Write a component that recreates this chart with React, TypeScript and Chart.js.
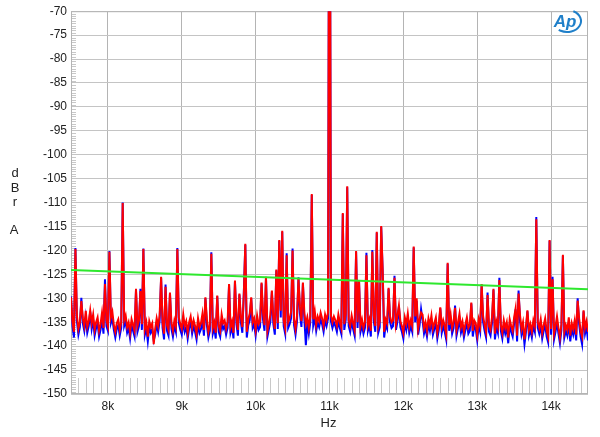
import React, { useEffect, useRef } from "react";
import { Chart, registerables } from "chart.js";

Chart.register(...registerables);

const X_MIN = 7500;
const X_MAX = 14500;
const BIN_HZ = 20;
const Y_MIN = -150;
const Y_MAX = -70;

const X_TICKS = [8000, 9000, 10000, 11000, 12000, 13000, 14000];
const Y_TICKS = [-150, -145, -140, -135, -130, -125, -120, -115, -110, -105, -100, -95, -90, -85, -80, -75, -70];

// Noise floor readings (red channel), one per 20 Hz bin from 7.5 kHz
const RED_NOISE = [
  -136.2, -134.8, -137.0, -135.4, -133.6, -136.4, -135.0, -137.2, -134.2, -135.8, -132.6, -136.0, -134.8, -137.4, -135.2, -133.4, -136.6, -135.0, -134.0, -136.8,
  -135.4, -133.0, -136.2, -137.6, -134.6, -135.8, -136.8, -134.0, -132.8, -135.6, -137.0, -135.2, -134.4, -136.6, -135.0, -137.8, -134.6, -133.6, -136.0, -135.0,
  -137.2, -134.4, -135.6, -136.8, -133.2, -135.8, -134.6, -137.0, -135.4, -133.8, -136.4, -135.0, -138.0, -134.8, -136.0, -135.2, -139.6, -136.4, -134.2, -135.8,
  -133.6, -136.2, -135.0, -137.4, -134.4, -135.6, -136.6, -132.4, -135.2, -136.8, -134.6, -135.8, -137.0, -134.0, -135.4, -136.4, -133.4, -135.8, -134.8, -137.2,
  -135.0, -133.8, -136.2, -134.6, -135.8, -137.4, -134.2, -136.0, -135.2, -133.2, -136.6, -135.4, -134.4, -137.0, -135.6, -134.0, -136.2, -135.0, -137.2, -134.6,
  -135.8, -136.8, -133.4, -135.2, -134.6, -136.4, -135.0, -132.8, -136.0, -134.8, -137.2, -135.6, -134.2, -136.6, -135.4, -133.8, -136.0, -134.6, -135.8, -137.0,
  -134.4, -133.2, -136.0, -135.0, -134.2, -136.6, -133.6, -135.4, -134.8, -136.2, -133.0, -135.6, -134.4, -136.8, -135.2, -133.4, -135.8, -134.2, -136.4, -133.8,
  -135.2, -134.0, -132.6, -135.6, -134.6, -136.2, -133.4, -135.0, -134.2, -132.8, -135.8, -134.4, -136.4, -133.6, -135.2, -131.8, -134.8, -136.0, -133.2, -135.4,
  -134.0, -136.2, -133.8, -135.0, -134.4, -132.6, -135.6, -133.8, -134.8, -133.0, -134.2, -135.8, -133.4, -134.6, -133.0, -132.2, -133.6, -135.0, -133.8, -134.6,
  -135.8, -133.4, -135.0, -136.2, -134.0, -135.4, -133.2, -136.0, -134.6, -135.8, -133.6, -135.2, -136.6, -134.2, -135.0, -133.0, -135.8, -134.4, -136.2, -135.0,
  -133.8, -135.6, -134.4, -136.8, -135.2, -133.6, -135.8, -134.2, -136.0, -134.8, -133.4, -135.6, -137.0, -134.4, -135.2, -136.4, -133.8, -135.0, -134.6, -136.6,
  -135.4, -133.6, -136.2, -134.8, -135.8, -137.2, -134.0, -135.4, -133.2, -136.0, -134.6, -135.8, -137.0, -133.8, -135.2, -136.4, -134.4, -135.6, -133.4, -136.2,
  -135.0, -136.8, -134.2, -135.6, -133.6, -136.4, -135.2, -134.0, -137.2, -135.4, -133.8, -136.0, -134.6, -135.8, -137.4, -134.2, -135.6, -133.4, -136.2, -135.0,
  -134.4, -136.6, -135.0, -133.2, -136.0, -134.8, -137.0, -135.4, -134.0, -136.2, -135.6, -133.6, -136.8, -134.6, -135.2, -137.6, -134.4, -135.8, -136.4, -133.8,
  -135.6, -137.0, -134.2, -135.8, -136.6, -134.0, -135.4, -137.4, -134.8, -136.0, -133.4, -135.6, -137.2, -134.6, -136.2, -135.0, -138.2, -134.4, -135.8, -136.8,
  -134.0, -135.6, -137.8, -135.2, -133.6, -136.4, -135.0, -138.6, -135.8, -134.2, -136.6, -135.4, -137.0, -134.6, -135.8, -138.4, -135.0, -136.2, -134.4, -137.2,
  -135.6, -134.2, -136.8, -138.0, -135.0, -136.4, -134.6, -137.4, -135.8, -133.8, -136.2, -138.2, -135.4, -134.8, -137.0, -135.6, -136.6, -134.0, -137.8, -135.2,
  -136.4, -134.6, -137.6, -135.8, -134.2, -136.8, -138.0, -135.0, -136.2, -134.8, -137.0,
];

// Noise floor readings (blue channel)
const BLUE_NOISE = [
  -137.0, -135.8, -138.2, -136.2, -134.8, -137.6, -136.0, -138.4, -135.2, -136.8, -134.0, -137.2, -135.8, -138.6, -136.4, -134.6, -137.8, -136.2, -135.2, -138.0,
  -136.6, -134.4, -137.4, -138.8, -135.8, -136.8, -138.0, -135.2, -134.2, -136.6, -138.2, -136.4, -135.6, -137.8, -136.2, -138.6, -135.8, -134.8, -137.2, -136.2,
  -138.4, -135.6, -136.8, -138.0, -134.6, -137.0, -135.8, -138.2, -136.6, -135.0, -137.6, -136.2, -139.0, -136.0, -137.2, -136.4, -138.8, -137.6, -135.4, -137.0,
  -134.8, -137.4, -136.2, -138.6, -135.6, -136.8, -137.8, -134.2, -136.4, -138.0, -135.8, -137.0, -138.4, -135.2, -136.6, -137.6, -134.8, -137.0, -136.0, -138.4,
  -136.2, -135.0, -137.4, -135.8, -137.0, -138.6, -135.4, -137.2, -136.4, -134.6, -137.8, -136.6, -135.6, -138.2, -136.8, -135.2, -137.4, -136.2, -138.4, -135.8,
  -137.0, -138.0, -134.8, -136.4, -135.8, -137.6, -136.2, -134.2, -137.2, -136.0, -138.4, -136.8, -135.4, -137.8, -136.6, -135.0, -137.2, -135.8, -137.0, -138.2,
  -135.6, -134.6, -137.2, -136.2, -135.4, -137.8, -134.8, -136.6, -136.0, -137.4, -134.4, -136.8, -135.6, -138.0, -136.4, -134.8, -137.0, -135.4, -137.6, -135.0,
  -136.4, -135.2, -134.0, -136.8, -135.8, -137.4, -134.6, -136.2, -135.4, -134.2, -137.0, -135.6, -137.6, -134.8, -136.4, -133.2, -136.0, -137.2, -134.4, -139.8,
  -135.2, -137.4, -135.0, -136.2, -135.6, -134.0, -136.8, -135.0, -136.0, -134.4, -135.4, -137.0, -134.6, -135.8, -134.2, -133.6, -134.8, -136.2, -135.0, -135.8,
  -137.0, -134.6, -136.2, -137.4, -135.2, -136.6, -134.4, -137.2, -135.8, -137.0, -134.8, -136.4, -137.8, -135.4, -136.2, -134.2, -137.0, -135.6, -137.4, -136.2,
  -135.0, -136.8, -135.6, -138.0, -136.4, -134.8, -137.0, -135.4, -137.2, -136.0, -134.6, -136.8, -138.2, -135.6, -136.4, -137.6, -135.0, -136.2, -135.8, -137.8,
  -136.6, -134.8, -137.4, -136.0, -137.0, -138.4, -135.2, -136.6, -134.4, -137.2, -135.8, -137.0, -138.2, -135.0, -136.4, -137.6, -135.6, -136.8, -134.6, -137.4,
  -136.2, -138.0, -135.4, -136.8, -134.8, -137.6, -136.4, -135.2, -138.4, -136.6, -135.0, -137.2, -135.8, -137.0, -138.6, -135.4, -136.8, -134.6, -137.4, -136.2,
  -135.6, -137.8, -136.2, -134.4, -137.2, -136.0, -138.2, -136.6, -135.2, -137.4, -136.8, -134.8, -138.0, -135.8, -136.4, -138.8, -135.6, -137.0, -137.6, -135.0,
  -136.8, -138.2, -135.4, -137.0, -137.8, -135.2, -136.6, -138.6, -136.0, -137.2, -134.6, -136.8, -138.4, -135.8, -137.4, -136.2, -139.4, -135.6, -137.0, -138.0,
  -135.2, -136.8, -139.0, -136.4, -134.8, -137.6, -136.2, -139.6, -137.0, -135.4, -137.8, -136.6, -138.2, -135.8, -137.0, -139.4, -136.2, -137.4, -135.6, -138.4,
  -136.8, -135.4, -138.0, -139.2, -136.2, -137.6, -135.8, -138.6, -137.0, -135.0, -137.4, -139.4, -136.6, -136.0, -138.2, -136.8, -137.8, -135.2, -139.0, -136.4,
  -137.6, -135.8, -138.8, -137.0, -135.4, -138.0, -139.6, -136.2, -137.4, -136.0, -138.8,
];

// Discrete spurious tones: frequency (Hz), red level, blue level (dBr)
const SPIKE_HZ = [
  7504, 7563, 7631, 7753, 7969, 8027, 8203, 8382, 8436, 8486, 8712, 8788, 8847, 8936,
  9310, 9401, 9482, 9631, 9716, 9770, 9838, 9861, 9949,
  10084, 10130, 10211, 10279, 10314, 10355, 10428, 10499, 10580, 10638, 10765,
  11000, 11184, 11233, 11368, 11404, 11503, 11576, 11644, 11697, 11729, 11797, 11877, 11945,
  12148, 12170, 12235, 12508, 12607, 12697, 12921,
  13062, 13147, 13219, 13296, 13521, 13566, 13678, 13791, 13980,
  14025, 14160, 14367, 14444,
];
const SPIKE_RED = [
  -129.8, -119.7, -130.6, -132.5, -127.0, -120.3, -110.1, -128.0, -128.5, -119.7, -125.5, -127.6, -128.8, -119.7,
  -129.8, -120.7, -129.4, -127.0, -126.3, -129.0, -129.2, -118.6, -129.8,
  -126.7, -125.5, -128.4, -124.0, -117.8, -115.9, -121.0, -120.0, -126.0, -126.7, -108.2,
  0, -112.2, -106.6, -120.1, -126.3, -121.0, -120.3, -116.1, -114.9, -124.2, -127.8, -125.7, -131.5,
  -119.2, -130.0, -133.0, -131.9, -122.6, -132.0, -130.9,
  -127.0, -129.3, -128.0, -126.2, -132.1, -129.0, -132.5, -113.5, -117.8,
  -126.0, -120.9, -130.5, -132.5,
];
const SPIKE_BLUE = [
  -129.6, -119.5, -129.9, -132.8, -126.0, -120.1, -110.0, -128.4, -128.0, -119.6, -125.7, -127.1, -129.0, -119.5,
  -130.0, -120.4, -129.6, -127.2, -126.5, -129.2, -128.8, -118.8, -130.0,
  -126.9, -125.7, -128.6, -124.2, -118.0, -116.1, -120.6, -119.6, -125.6, -126.9, -108.4,
  0, -112.4, -106.8, -120.3, -126.5, -120.5, -119.9, -116.3, -115.1, -124.4, -128.0, -125.3, -131.7,
  -119.4, -130.5, -132.3, -132.1, -122.8, -131.5, -131.1,
  -127.2, -128.8, -128.2, -125.7, -132.3, -128.4, -132.7, -113.0, -118.0,
  -125.5, -121.1, -130.0, -132.7,
];

// Green limit line end points
const LIMIT_HZ = [7500, 14500];
const LIMIT_DB = [-124.1, -128.1];

const BIN_FREQS = RED_NOISE.map((_, i) => X_MIN + i * BIN_HZ);

function buildSeries(noise: number[], spikes: number[]) {
  const vals = noise.slice();
  SPIKE_HZ.forEach((hz, k) => {
    const i = Math.round((hz - X_MIN) / BIN_HZ);
    if (i >= 0 && i < vals.length) vals[i] = spikes[k];
  });
  return BIN_FREQS.map((x, i) => ({ x, y: vals[i] }));
}

const FONT = "'Liberation Sans', Arial, sans-serif";

const decorPlugin = {
  id: "decor",
  beforeDatasetsDraw(chart: any) {
    const { ctx, chartArea, scales } = chart;
    const xs = scales.x;
    const ys = scales.y;
    ctx.save();
    ctx.strokeStyle = "#c8c8c8";
    ctx.lineWidth = 1;
    ctx.beginPath();
    // minor x ticks every 100 Hz
    for (let f = 7600; f < X_MAX; f += 100) {
      if (f % 1000 === 0) continue;
      const px = Math.round(xs.getPixelForValue(f)) + 0.5;
      ctx.moveTo(px, chartArea.bottom);
      ctx.lineTo(px, chartArea.bottom - 16);
    }
    // minor y ticks every 0.5 dB
    for (let v = Y_MIN + 0.5; v < Y_MAX; v += 0.5) {
      if (Math.abs(v % 5) < 0.01) continue;
      const py = Math.round(ys.getPixelForValue(v)) + 0.5;
      ctx.moveTo(chartArea.left, py);
      ctx.lineTo(chartArea.left + 5, py);
    }
    ctx.stroke();
    ctx.strokeStyle = "#b4b4b4";
    ctx.strokeRect(chartArea.left + 0.5, chartArea.top + 0.5, chartArea.right - chartArea.left - 1, chartArea.bottom - chartArea.top - 1);
    ctx.restore();
  },
  afterDraw(chart: any) {
    const { ctx, chartArea } = chart;
    ctx.save();
    ctx.fillStyle = "#222";
    ctx.font = `13px ${FONT}`;
    ctx.textAlign = "center";
    ctx.textBaseline = "middle";
    ctx.fillText("d", 15, 173);
    ctx.fillText("B", 15, 188);
    ctx.fillText("r", 15, 202);
    ctx.fillText("A", 14, 230);
    ctx.fillText("Hz", (chartArea.left + chartArea.right) / 2 - 1, 423);
    // Ap logo
    ctx.fillStyle = "#1f7fc9";
    ctx.strokeStyle = "#1f7fc9";
    ctx.font = `italic bold 17px ${FONT}`;
    ctx.fillText("Ap", 565, 22);
    ctx.lineWidth = 2;
    ctx.beginPath();
    ctx.ellipse(567, 21, 14, 11, 0, -1.1, 2.2);
    ctx.stroke();
    ctx.restore();
  },
};

export default function App() {
  const canvasRef = useRef<HTMLCanvasElement | null>(null);

  useEffect(() => {
    document.body.style.margin = "0";
    const canvas = canvasRef.current;
    if (!canvas) return;
    const chart = new Chart(canvas, {
      type: "line",
      data: {
        datasets: [
          {
            label: "limit",
            data: LIMIT_HZ.map((x, i) => ({ x, y: LIMIT_DB[i] })),
            borderColor: "#2ee82e",
            borderWidth: 2,
            pointRadius: 0,
            order: 0,
          },
          {
            label: "red",
            data: buildSeries(RED_NOISE, SPIKE_RED),
            borderColor: "#ff0000",
            borderWidth: 2,
            pointRadius: 0,
            order: 1,
          },
          {
            label: "blue",
            data: buildSeries(BLUE_NOISE, SPIKE_BLUE),
            borderColor: "#0000ff",
            borderWidth: 2,
            pointRadius: 0,
            order: 2,
          },
        ],
      },
      options: {
        responsive: false,
        animation: false,
        events: [],
        layout: { padding: { left: 0, right: 12, top: 9, bottom: 0 } },
        plugins: { legend: { display: false }, tooltip: { enabled: false } },
        elements: { line: { tension: 0 } },
        scales: {
          x: {
            type: "linear",
            min: X_MIN,
            max: X_MAX,
            afterBuildTicks: (s: any) => {
              s.ticks = X_TICKS.map((v) => ({ value: v }));
            },
            afterFit: (s: any) => {
              s.height = 43;
            },
            grid: { color: "#b4b4b4", lineWidth: 1, drawTicks: false },
            border: { display: false },
            ticks: {
              padding: 5,
              color: "#222",
              autoSkip: false,
              maxRotation: 0,
              font: { family: FONT, size: 12 },
              callback: (v: any) => `${Number(v) / 1000}k`,
            },
          },
          y: {
            type: "linear",
            min: Y_MIN,
            max: Y_MAX,
            afterBuildTicks: (s: any) => {
              s.ticks = Y_TICKS.map((v) => ({ value: v }));
            },
            afterFit: (s: any) => {
              s.width = 71;
            },
            grid: { color: "#c4c4c4", lineWidth: 1, drawTicks: false },
            border: { display: false },
            ticks: {
              padding: 4,
              color: "#222",
              autoSkip: false,
              font: { family: FONT, size: 12 },
            },
          },
        },
      },
      plugins: [decorPlugin],
    } as any);
    return () => chart.destroy();
  }, []);

  return (
    <div style={{ position: "absolute", left: 0, top: 0, width: 600, height: 437, background: "#fff" }}>
      <canvas ref={canvasRef} width={600} height={437} />
    </div>
  );
}
